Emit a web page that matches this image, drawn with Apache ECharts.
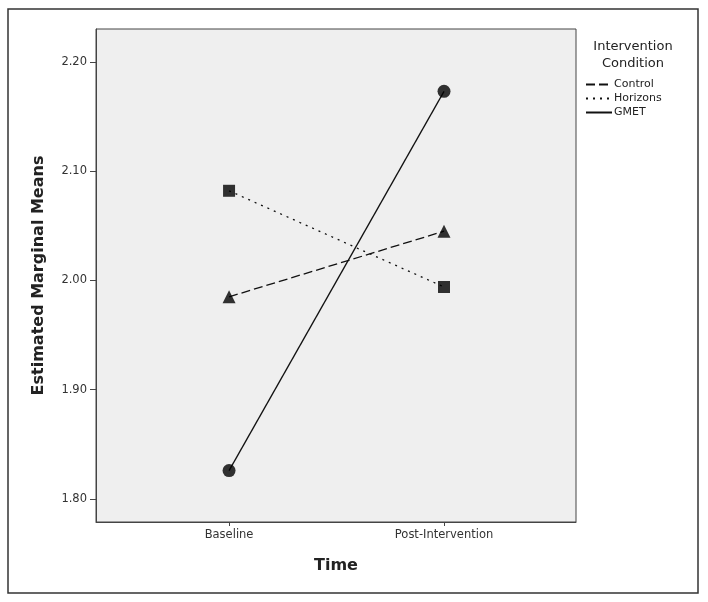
<!DOCTYPE html>
<html>
<head>
<meta charset="utf-8">
<script src="https://cdn.jsdelivr.net/npm/echarts@6/dist/echarts.min.js"></script>
<style>
  html, body { margin: 0; padding: 0; background: #fff; }
  #chart { width: 708px; height: 602px; }
</style>
</head>
<body>
<div id="chart"></div>
<script>
// time points (x categories)
var categories = ["Baseline", "Post-Intervention"];
var yTicks = [1.8, 1.9, 2.0, 2.1, 2.2];

// estimated marginal means per condition
var control = [1.985, 2.045];
var horizons = [2.082, 1.994];
var gmet = [1.826, 2.173];

var font = "DejaVu Sans";

function pts(arr) {
  return arr.map(function (v, i) { return [i, v]; });
}

var chart = echarts.init(document.getElementById("chart"));

function lineSeries(name, data, dash) {
  return {
    name: name,
    type: "line",
    data: pts(data),
    symbol: "none",
    itemStyle: { color: "#111" },
    lineStyle: { color: "#111", width: 1.3, type: dash },
    z: 2
  };
}

function markerSeries(name, data, symbol, size) {
  return {
    name: name + " marker",
    type: "scatter",
    data: pts(data),
    symbol: symbol,
    symbolSize: size,
    itemStyle: { color: "#000" },
    z: 3
  };
}

chart.setOption({
  animation: false,
  textStyle: { fontFamily: font },
  graphic: [{
    type: "rect",
    shape: { x: 8, y: 9, width: 690, height: 584 },
    style: { fill: "none", stroke: "#333", lineWidth: 1.5 }
  }],
  title: {
    text: "Intervention\nCondition",
    left: 628,
    top: 33,
    textAlign: "center",
    textStyle: { fontFamily: font, fontSize: 13, fontWeight: "normal", color: "#222", lineHeight: 17 }
  },
  legend: {
    orient: "vertical",
    left: 580,
    top: 74,
    itemWidth: 26,
    itemHeight: 10,
    itemGap: 3,
    data: ["Control", "Horizons", "GMET"],
    itemStyle: { opacity: 0 },
    textStyle: { fontFamily: font, fontSize: 11, color: "#222", padding: [0, 0, 0, -3] }
  },
  grid: {
    left: 96,
    top: 29,
    right: 132,
    bottom: 80,
    show: true,
    backgroundColor: "#efefef",
    borderColor: "#444",
    borderWidth: 1
  },
  xAxis: {
    type: "value",
    min: -0.619,
    max: 1.614,
    name: "Time",
    nameLocation: "middle",
    nameGap: 36,
    nameTextStyle: { fontFamily: font, fontSize: 16, fontWeight: "bold", color: "#222" },
    axisLine: { show: true, onZero: false, lineStyle: { color: "#444" } },
    axisTick: { show: true, customValues: [0, 1], length: 4, lineStyle: { color: "#444" } },
    axisLabel: {
      customValues: [0, 1],
      margin: 7,
      fontSize: 11.5,
      color: "#333",
      formatter: function (v) { return categories[Math.round(v)]; }
    },
    splitLine: { show: false }
  },
  yAxis: {
    type: "value",
    min: 1.779,
    max: 2.230,
    name: "Estimated Marginal Means",
    nameLocation: "middle",
    nameGap: 49,
    nameTextStyle: { fontFamily: font, fontSize: 16, fontWeight: "bold", color: "#222" },
    axisLine: { show: true, onZero: false, lineStyle: { color: "#444" } },
    axisTick: { show: true, customValues: yTicks, length: 6, lineStyle: { color: "#444" } },
    axisLabel: {
      customValues: yTicks,
      margin: 9,
      fontSize: 11.5,
      color: "#333",
      formatter: function (v) { return v.toFixed(2); }
    },
    splitLine: { show: false }
  },
  series: [
    lineSeries("Control", control, [9, 4]),
    lineSeries("Horizons", horizons, [2, 5]),
    lineSeries("GMET", gmet, "solid"),
    markerSeries("Control", control, "triangle", 13),
    markerSeries("Horizons", horizons, "rect", 12),
    markerSeries("GMET", gmet, "circle", 13)
  ]
});
</script>
</body>
</html>
